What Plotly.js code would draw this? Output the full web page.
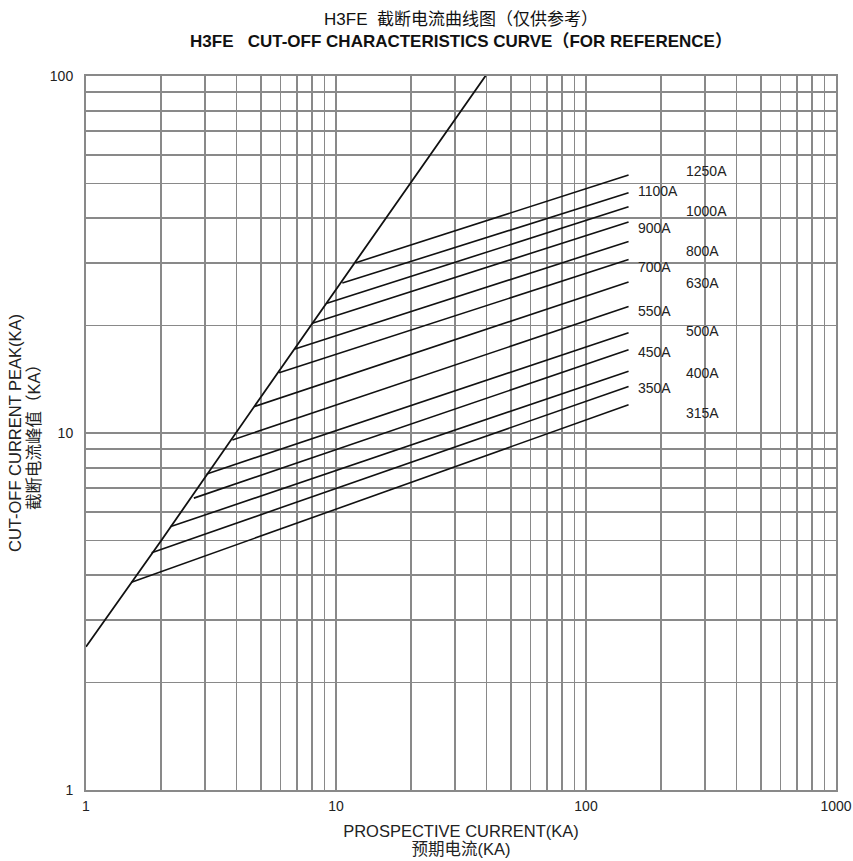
<!DOCTYPE html>
<html>
<head>
<meta charset="utf-8">
<script src="https://cdn.plot.ly/plotly-3.0.1.min.js"></script>
<style>html,body{margin:0;padding:0;background:#fff;}#chart{width:853px;height:861px;}</style>
</head>
<body>
<div id="chart"></div>
<script>
// Fuse ratings (labels of the cut-off lines)
const ratings = ['1250A','1100A','1000A','900A','800A','700A','630A','550A','500A','450A','400A','350A','315A'];
// Start point of each line on the limiting (peak) line, kA
const startX = [12.0, 10.6, 9.2, 8.04, 6.85, 5.92, 4.70, 3.85, 3.04, 2.70, 2.17, 1.83, 1.52];
const startY = [30.0, 26.3, 23.1, 20.3, 17.2, 14.75, 11.85, 9.56, 7.68, 6.57, 5.46, 4.62, 3.82];
// End point of each line, kA
const endX = [148, 148, 148, 148, 148, 148, 148, 148, 148, 148, 148, 148, 148];
const endY = [52.8, 47.1, 43.0, 39.0, 34.4, 30.6, 26.5, 22.6, 19.1, 17.1, 14.9, 13.5, 12.0];
// Limiting line (max. peak of prospective current)
const diagX = [1, 2, 5, 10, 20, 40];
const diagY = [2.52, 5.0, 12.6, 25.3, 50.5, 101];
// Axis ticks
const xTickVals = [1,2,3,4,5,6,7,8,9,10,20,30,40,50,60,70,80,90,100,200,300,400,500,600,700,800,900,1000];
const yTickVals = [1,2,3,4,5,6,7,8,9,10,20,30,40,50,60,70,80,90,100];
const xLabelled = [1, 10, 100, 1000];
const yLabelled = [1, 10, 100];

const FONT = '"Liberation Sans", Arial, "Noto Sans CJK SC", sans-serif';
const GRID = '#898989';

const traces = [];
traces.push({
  x: diagX, y: diagY, type: 'scatter', mode: 'lines',
  line: {color: '#111', width: 1.8}, hoverinfo: 'skip', showlegend: false
});
ratings.forEach((r, i) => {
  traces.push({
    x: [startX[i], endX[i]], y: [startY[i], endY[i]],
    type: 'scatter', mode: 'lines', name: r,
    line: {color: '#111', width: 1.6}, showlegend: false
  });
});

// label placement: alternating near/far columns, small vertical nudges (px, + = down)
const nudge = [-4, -2, 4, 6, 10, 7, 1, 4, -2, 2, 2, 2, 8];
const annotations = ratings.map((r, i) => ({
  x: Math.log10(endX[i]), y: Math.log10(endY[i]), xref: 'x', yref: 'y',
  text: r, showarrow: false, xanchor: 'left', yanchor: 'middle',
  xshift: (i % 2 === 0) ? 55 : 7, yshift: -nudge[i],
  font: {family: FONT, size: 14, color: '#222'}
}));

const axisCommon = {
  type: 'log', showgrid: true, gridcolor: GRID, gridwidth: 1.8,
  showline: true, mirror: true, linecolor: GRID, linewidth: 2,
  zeroline: false, ticks: '', tickfont: {family: FONT, size: 14, color: '#222'}
};

const layout = {
  width: 853, height: 861,
  margin: {l: 86, r: 17, t: 75.5, b: 70.5},
  paper_bgcolor: '#fff', plot_bgcolor: '#fff',
  font: {family: FONT, color: '#222'},
  title: {
    text: 'H3FE  截断电流曲线图（仅供参考）<br><b>H3FE   CUT-OFF CHARACTERISTICS CURVE（FOR REFERENCE）</b>',
    font: {family: FONT, size: 17, color: '#111'},
    x: 0.5, xref: 'paper', xanchor: 'center',
    y: 1 - 24.5 / 861, yref: 'container', yanchor: 'middle'
  },
  xaxis: Object.assign({}, axisCommon, {
    range: [0, 3],
    tickvals: xTickVals,
    ticktext: xTickVals.map(v => xLabelled.includes(v) ? String(v) : ''),
    ticklabelstandoff: 2,
    title: {
      text: '<span style="font-size:16.5px">PROSPECTIVE CURRENT(KA)</span><br><span style="font-size:16.5px">预期电流(KA)</span>',
      font: {family: FONT, size: 14, color: '#222'}, standoff: 14
    }
  }),
  yaxis: Object.assign({}, axisCommon, {
    range: [0, 2],
    tickvals: yTickVals,
    ticktext: yTickVals.map(v => yLabelled.includes(v) ? String(v) : ''),
    ticklabelstandoff: 8,
    title: {
      text: '<span style="font-size:16.5px">CUT-OFF CURRENT PEAK(KA)</span><br><span style="font-size:16.5px">截断电流峰值（KA）</span>',
      font: {family: FONT, size: 14.6, color: '#222'}, standoff: 6
    }
  }),
  annotations: annotations,
  showlegend: false
};

Plotly.newPlot('chart', traces, layout, {displayModeBar: false, staticPlot: true});
</script>
</body>
</html>
